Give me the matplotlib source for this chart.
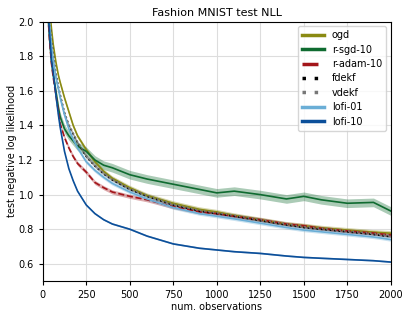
import numpy as np
import matplotlib.pyplot as plt

steps = [1, 20, 30, 40, 50, 60, 75, 90, 100, 125, 150, 175, 200, 250, 300, 350,
         400, 500, 600, 750, 900, 1000, 1100, 1250, 1400, 1500, 1600, 1750, 1900, 1950, 2000]

ogd = [2.7, 2.4, 2.22, 2.07, 1.96, 1.87, 1.77, 1.69, 1.65, 1.56, 1.48, 1.40, 1.34, 1.26, 1.19, 1.135,
       1.095, 1.04, 0.995, 0.95, 0.915, 0.90, 0.88, 0.855, 0.83, 0.82, 0.808, 0.795, 0.783, 0.78, 0.777]
rsgd = [2.5, 2.2, 2.04, 1.89, 1.77, 1.69, 1.60, 1.50, 1.45, 1.38, 1.34, 1.31, 1.28, 1.25, 1.20, 1.17,
        1.155, 1.115, 1.09, 1.06, 1.03, 1.01, 1.02, 1.0, 0.975, 0.99, 0.97, 0.95, 0.955, 0.93, 0.905]
radam = [2.5, 2.2, 2.04, 1.88, 1.76, 1.68, 1.58, 1.48, 1.41, 1.33, 1.27, 1.22, 1.18, 1.13, 1.07, 1.04,
         1.015, 0.99, 0.97, 0.93, 0.90, 0.89, 0.875, 0.855, 0.83, 0.82, 0.805, 0.79, 0.778, 0.772, 0.767]
fdekf = [2.6, 2.3, 2.13, 2.0, 1.89, 1.81, 1.70, 1.62, 1.575, 1.47, 1.40, 1.35, 1.30, 1.22, 1.165, 1.12,
         1.085, 1.03, 0.99, 0.94, 0.905, 0.89, 0.875, 0.85, 0.825, 0.81, 0.80, 0.785, 0.77, 0.763, 0.757]
vdekf = [2.6, 2.3, 2.13, 2.0, 1.89, 1.81, 1.70, 1.62, 1.58, 1.475, 1.405, 1.355, 1.305, 1.225, 1.17, 1.125,
         1.09, 1.035, 0.995, 0.945, 0.91, 0.895, 0.88, 0.855, 0.83, 0.815, 0.805, 0.79, 0.775, 0.768, 0.762]
lofi01 = [2.6, 2.3, 2.12, 1.98, 1.86, 1.78, 1.68, 1.61, 1.56, 1.46, 1.38, 1.32, 1.27, 1.19, 1.14, 1.10,
          1.065, 1.015, 0.975, 0.925, 0.89, 0.875, 0.86, 0.835, 0.81, 0.795, 0.785, 0.77, 0.755, 0.748, 0.74]
lofi10 = [2.5, 2.25, 2.08, 1.92, 1.78, 1.71, 1.58, 1.46, 1.39, 1.25, 1.15, 1.08, 1.02, 0.94, 0.89, 0.855,
          0.83, 0.80, 0.76, 0.715, 0.69, 0.68, 0.67, 0.66, 0.645, 0.637, 0.632, 0.625, 0.618, 0.614, 0.61]

series = [
    ("ogd", ogd, "#8a8a12", "-", 0.012),
    ("r-sgd-10", rsgd, "#0f6b30", "-", 0.025),
    ("r-adam-10", radam, "#a3151a", "--", 0.012),
    ("fdekf", fdekf, "black", ":", 0.008),
    ("vdekf", vdekf, "#777777", ":", 0.008),
    ("lofi-01", lofi01, "#6aaed6", "-", 0.012),
    ("lofi-10", lofi10, "#0b4f9a", "-", 0.005),
]

fig = plt.figure(figsize=(4.11, 3.18), dpi=100)
ax = fig.add_axes([0.104, 0.116, 0.847, 0.816])

x = np.array(steps)
for name, vals, col, ls, err in series:
    v = np.array(vals)
    ax.fill_between(x, v - err, v + err, color=col, alpha=0.35, lw=0)
    ax.plot(x, v, color=col, ls=ls, lw=1.2, label=name)

ax.set_xlim(0, 2000)
ax.set_ylim(0.5, 2.0)
ax.set_xticks([0, 250, 500, 750, 1000, 1250, 1500, 1750, 2000])
ax.set_yticks([0.6, 0.8, 1.0, 1.2, 1.4, 1.6, 1.8, 2.0])
ax.tick_params(labelsize=7, length=3)
ax.grid(True, color="#dddddd", lw=0.8)
ax.set_axisbelow(True)
ax.set_xlabel("num. observations", fontsize=7, labelpad=1)
ax.set_ylabel("test negative log likelihood", fontsize=7, labelpad=1)
ax.set_title("Fashion MNIST test NLL", fontsize=8, pad=4)

leg = ax.legend(loc="upper right", fontsize=7, handlelength=2.3, labelspacing=0.45)
for line in leg.get_lines():
    ls = line.get_linestyle()
    line.set_linewidth(2.5)
    if ls == ":":
        line.set_dashes([1, 2.5])
    elif ls == "--":
        line.set_dashes([4.6, 3])

fig.savefig("out.png", dpi=100)
